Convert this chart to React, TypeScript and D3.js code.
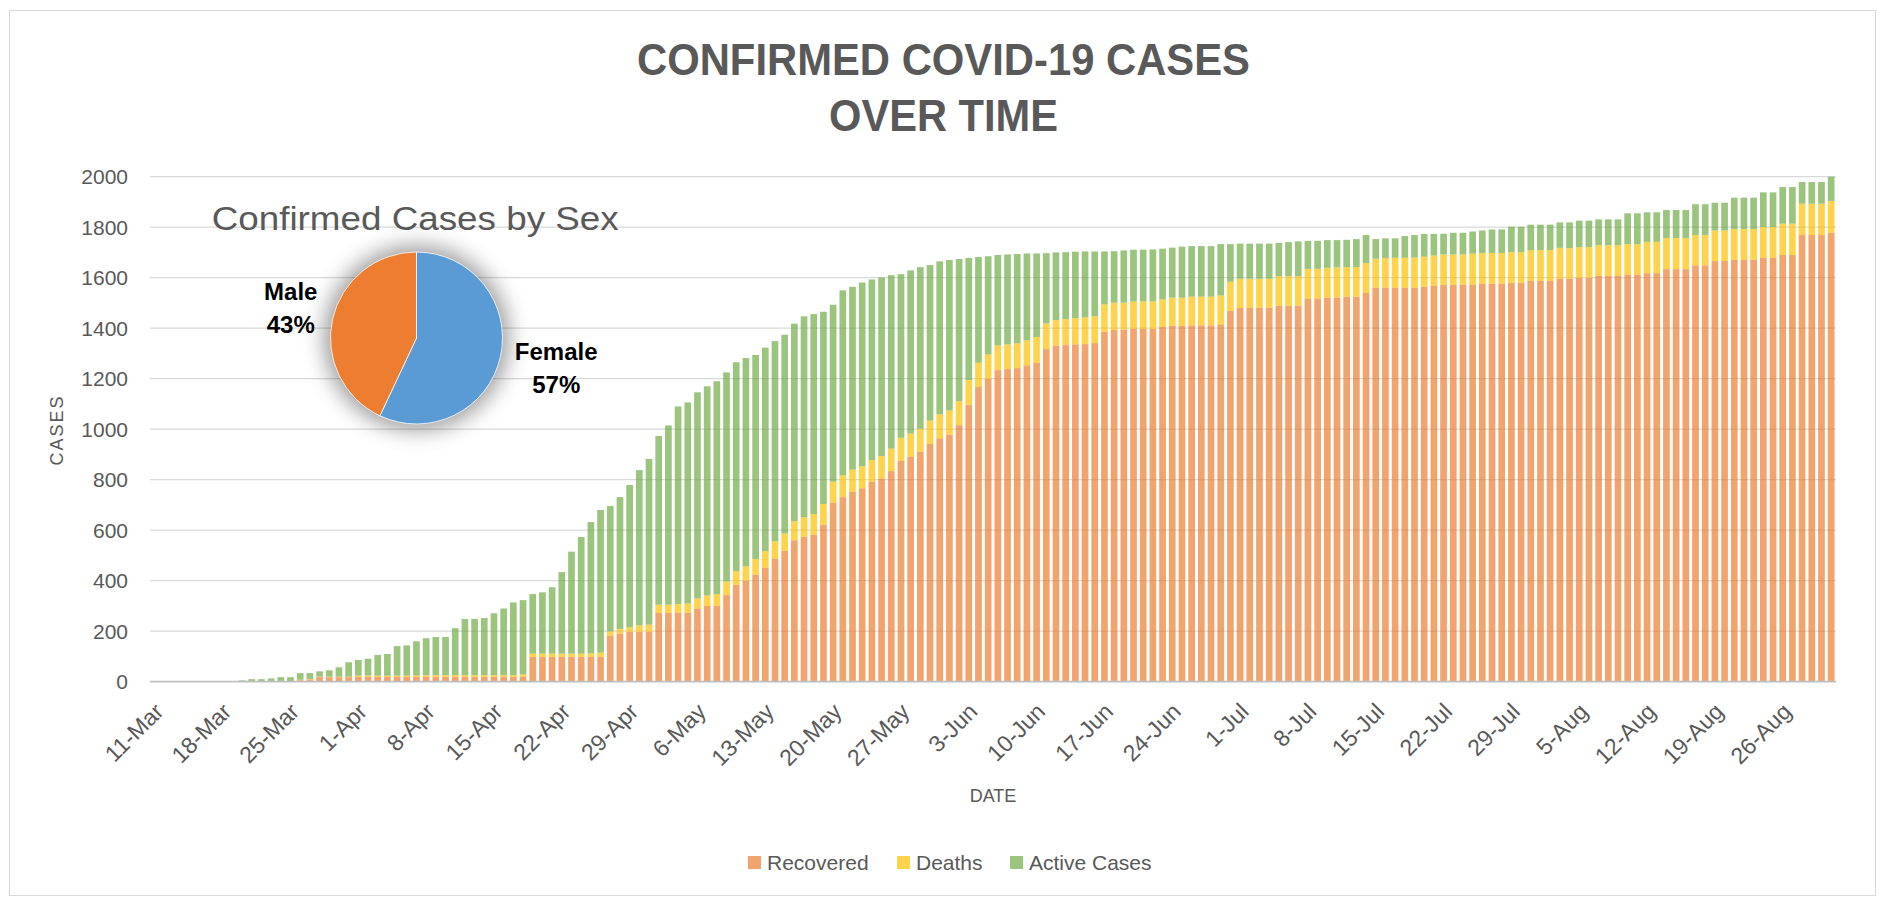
import * as d3 from "d3";

// categories: one per day, 11-Mar .. 31-Aug
const dates = d3.timeDay.range(new Date(2020, 2, 11), new Date(2020, 8, 1));
const categories = dates.map(d3.timeFormat("%-d-%b"));

const recovered = [
  0, 0, 0, 0, 0, 0, 0, 0, 0, 0, 0, 0, 0, 0, 0, 6, 9, 18, 18, 18, 18,
  19, 19, 19, 19, 19, 19, 19, 19, 19, 19, 19, 19, 19, 19, 19, 19, 19, 20,
  98, 98, 98, 98, 98, 98, 98, 98, 182, 191, 197, 197, 197,
  273, 273, 273, 273, 288, 300, 301, 343, 384, 400, 424, 451, 488, 519, 560, 574, 582, 622,
  709, 731, 752, 766, 792, 805, 834, 875, 891, 911, 942, 964, 978, 1016, 1097, 1167, 1199,
  1234, 1238, 1242, 1253, 1263, 1317, 1330, 1333, 1336, 1337, 1341, 1386, 1393, 1394, 1397,
  1397, 1397, 1405, 1409, 1409, 1411, 1411, 1411, 1415, 1468, 1480, 1480, 1481, 1481, 1489,
  1489, 1489, 1517, 1517, 1521, 1521, 1525, 1525, 1540, 1560, 1560, 1560, 1560, 1560, 1564,
  1568, 1572, 1572, 1572, 1573, 1576, 1576, 1576, 1580, 1580, 1587, 1587, 1587, 1596, 1596,
  1600, 1600, 1607, 1607, 1607, 1611, 1611, 1618, 1618, 1634, 1634, 1634, 1649, 1649, 1666,
  1666, 1671, 1671, 1671, 1678, 1678, 1690, 1690, 1769, 1769, 1769, 1778,
];

const deaths = [
  0, 0, 0, 0, 0, 0, 0, 0, 0, 0, 0, 0, 0, 0, 0, 2, 2, 2, 2, 2, 2,
  5, 5, 5, 5, 5, 5, 5, 6, 7, 7, 7, 7, 7, 7, 7, 7, 7, 9,
  13, 13, 13, 13, 13, 13, 14, 17, 17, 18, 19, 26, 29,
  32, 32, 35, 37, 42, 42, 46, 54, 54, 57, 62, 66, 68, 68, 76, 77, 82, 82,
  83, 86, 88, 87, 86, 89, 89, 91, 92, 91, 92, 95, 96, 95, 98, 96, 97,
  98, 98, 98, 99, 102, 102, 102, 103, 104, 106, 106, 108, 108, 107, 109,
  109, 109, 109, 112, 112, 114, 114, 114, 115, 116, 116, 116, 115, 115, 117,
  117, 117, 118, 118, 118, 120, 117, 117, 118, 115, 118, 119, 119, 120, 119,
  120, 120, 120, 120, 122, 122, 122, 122, 121, 121, 122, 122, 122, 122, 121,
  121, 121, 122, 122, 122, 122, 122, 124, 124, 123, 123, 123, 120, 120, 121,
  121, 122, 122, 122, 123, 123, 124, 124, 124, 124, 124, 126,
];

const active = [
  0, 0, 0, 0, 0, 0, 0, 0, 0, 5, 10, 10, 13, 18, 18, 26, 23, 21, 25, 37, 57,
  62, 67, 82, 86, 117, 120, 136, 147, 151, 151, 186, 222, 223, 226, 245, 264, 288, 294,
  236, 243, 263, 323, 404, 462, 520, 565, 497, 522, 563, 615, 656,
  668, 710, 782, 796, 816, 828, 843, 828, 827, 825, 808, 806, 793, 787, 782, 796, 792, 761,
  701, 733, 724, 728, 715, 707, 687, 648, 646, 640, 616, 606, 596, 563, 483, 419, 389,
  358, 356, 354, 344, 331, 278, 268, 265, 263, 261, 257, 210, 204, 207, 205,
  205, 206, 201, 198, 202, 200, 200, 200, 203, 149, 139, 139, 139, 139, 132,
  135, 138, 111, 111, 110, 108, 108, 111, 111, 78, 78, 77, 86, 89, 90,
  85, 82, 86, 86, 88, 89, 93, 93, 101, 101, 101, 101, 101, 101, 102,
  105, 105, 102, 102, 102, 122, 122, 117, 117, 111, 111, 111, 122, 122, 110,
  110, 124, 124, 124, 137, 137, 145, 145, 86, 86, 86, 96,
];

const seriesNames = ["Recovered", "Deaths", "Active Cases"];
const seriesColors = ["#ED7D31", "#FFC000", "#70AD47"];
const yTicks = [0, 200, 400, 600, 800, 1000, 1200, 1400, 1600, 1800, 2000];

const sexLabels = ["Female", "Male"];
const sexShares = [57, 43];
const sexColors = ["#5B9BD5", "#ED7D31"];

const W = 1885, H = 898;
const TXT = "#595959";
const FONT = "'Liberation Sans', Arial, sans-serif";

export default function App() {
  const x = d3.scaleBand<number>()
    .domain(categories.map((_, i) => i))
    .range([150, 1836])
    .paddingInner(0.31)
    .paddingOuter(0.155);
  const y = d3.scaleLinear().domain([0, 2000]).range([681.7, 176.7]);

  const rows = categories.map((c, i) => ({
    i, Recovered: recovered[i], Deaths: deaths[i], "Active Cases": active[i],
  }));
  const stacked = d3.stack<any>().keys(seriesNames)(rows);

  const pieCx = 416.5, pieCy = 338, pieR = 86;
  const pie = d3.pie<number>().sort(null).value(d => d)(sexShares);
  const arc = d3.arc<any>().innerRadius(0).outerRadius(pieR);
  const labelArc = d3.arc<any>().innerRadius(136).outerRadius(136);

  const legendX = [748, 897, 1010];

  return (
    <svg width={W} height={H} style={{ position: "absolute", left: 0, top: 0, background: "#fff" }}
      fontFamily={FONT}>
      <defs>
        <filter id="pieShadow" x="-50%" y="-50%" width="200%" height="200%">
          <feGaussianBlur stdDeviation="11" />
        </filter>
      </defs>
      <rect x={9.5} y={10.5} width={1866} height={885} fill="#fff" stroke="#d9d9d9" strokeWidth={1} />

      {/* title */}
      <text x={943.5} y={75} textAnchor="middle" fontSize={44} fontWeight={700} fill={TXT}
        textLength={613} lengthAdjust="spacingAndGlyphs">CONFIRMED COVID-19 CASES</text>
      <text x={943.5} y={131} textAnchor="middle" fontSize={44} fontWeight={700} fill={TXT}
        textLength={229} lengthAdjust="spacingAndGlyphs">OVER TIME</text>

      {/* gridlines + y ticks */}
      {yTicks.map(t => (
        <g key={t}>
          {t > 0 && <line x1={150} x2={1836} y1={y(t)} y2={y(t)} stroke="#d9d9d9" strokeWidth={1.3} />}
          <text x={128} y={y(t)} dy="0.35em" textAnchor="end" fontSize={21} fill={TXT}>{t}</text>
        </g>
      ))}

      {/* stacked bars */}
      {stacked.map((s, si) => (
        <g key={s.key} fill={seriesColors[si]} fillOpacity={0.7}>
          {s.map((d, i) => d[1] - d[0] > 0 ? (
            <rect key={i} x={x(i)} width={x.bandwidth()} y={y(d[1])} height={y(d[0]) - y(d[1])} />
          ) : null)}
        </g>
      ))}

      <line x1={150} x2={1836} y1={681.7} y2={681.7} stroke="#bfbfbf" strokeWidth={1.8} />

      {/* x tick labels */}
      {categories.map((c, i) => i % 7 === 0 ? (
        <text key={c} transform={`translate(${(x(i) as number) + x.bandwidth() / 2 + 10},713) rotate(-45)`}
          textAnchor="end" fontSize={23} fill={TXT}>{c}</text>
      ) : null)}

      <text x={993} y={802} textAnchor="middle" fontSize={18} fill={TXT}>DATE</text>
      <text transform="translate(63,430) rotate(-90)" textAnchor="middle" fontSize={18} fill={TXT}
        letterSpacing={2}>CASES</text>

      {/* inset pie */}
      <text x={211.7} y={230} fontSize={34} fill={TXT} textLength={407} lengthAdjust="spacingAndGlyphs">
        Confirmed Cases by Sex</text>
      <circle cx={pieCx} cy={pieCy} r={pieR + 6} fill="#000" opacity={0.4} filter="url(#pieShadow)" />
      <g transform={`translate(${pieCx},${pieCy})`}>
        {pie.map((p, i) => (
          <path key={i} d={arc(p) as string} fill={sexColors[i]} stroke="#fff" strokeWidth={0.8} />
        ))}
        {pie.map((p, i) => {
          const [lx, ly] = labelArc.centroid(p);
          return (
            <g key={"l" + i} fontWeight={700} fontSize={24} fill="#000" textAnchor="middle">
              <text x={lx + 7} y={ly - 8}>{sexLabels[i]}</text>
              <text x={lx + 7} y={ly + 25}>{sexShares[i]}%</text>
            </g>
          );
        })}
      </g>

      {/* legend */}
      {seriesNames.map((n, i) => (
        <g key={n}>
          <rect x={legendX[i]} y={856} width={13} height={13} fill={seriesColors[i]} fillOpacity={0.7} />
          <text x={legendX[i] + 19} y={870} fontSize={21} fill={TXT}>{n}</text>
        </g>
      ))}
    </svg>
  );
}
